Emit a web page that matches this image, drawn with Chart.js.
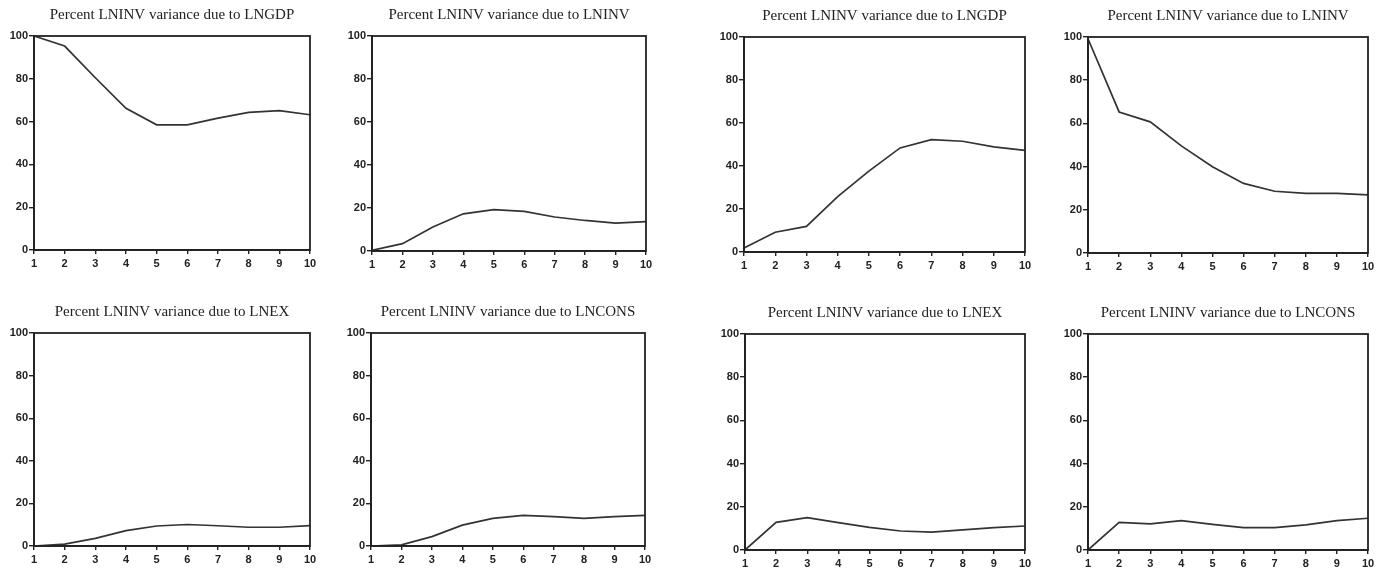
<!DOCTYPE html>
<html>
<head>
<meta charset="utf-8">
<script src="https://cdn.jsdelivr.net/npm/chart.js@4.4.1/dist/chart.umd.min.js"></script>
<style>
  html, body { margin: 0; background: #fff; }
  body { width: 1391px; height: 575px; position: relative; overflow: hidden; }
  canvas { position: absolute; }
</style>
</head>
<body>
<script>
// ── Data ───────────────────────────────────────────────────
const horizons  = ['1','2','3','4','5','6','7','8','9','10'];
const yTicks    = [0, 20, 40, 60, 80, 100];

const leftGdp   = [100, 95.3, 80.5, 66.2, 58.5, 58.5, 61.6, 64.3, 65.1, 63.2];
const leftInv   = [0.3, 3.4, 11.2, 17.3, 19.2, 18.4, 15.8, 14.2, 13.0, 13.7];
const leftEx    = [0.0, 0.9, 3.6, 7.2, 9.4, 10.1, 9.5, 8.8, 8.8, 9.6];
const leftCons  = [0.0, 0.5, 4.4, 9.8, 13.0, 14.4, 13.8, 13.0, 13.8, 14.4];

const rightGdp  = [1.9, 9.2, 11.9, 25.8, 37.6, 48.4, 52.3, 51.5, 48.9, 47.3];
const rightInv  = [99.2, 65.3, 60.7, 49.6, 39.9, 32.2, 28.6, 27.6, 27.6, 26.9];
const rightEx   = [0.0, 12.8, 15.0, 12.7, 10.5, 8.8, 8.3, 9.3, 10.4, 11.1];
const rightCons = [0.0, 12.8, 12.1, 13.6, 11.9, 10.4, 10.4, 11.6, 13.6, 14.7];

const titles = [
  'Percent LNINV variance due to LNGDP', 'Percent LNINV variance due to LNINV',
  'Percent LNINV variance due to LNGDP', 'Percent LNINV variance due to LNINV',
  'Percent LNINV variance due to LNEX',  'Percent LNINV variance due to LNCONS',
  'Percent LNINV variance due to LNEX',  'Percent LNINV variance due to LNCONS'
];
const series = [leftGdp, leftInv, rightGdp, rightInv, leftEx, leftCons, rightEx, rightCons];

// plot-area boxes (left, right, top, bottom) in page pixels
const boxes = [
  [34, 310, 36, 250], [372, 646, 36, 251], [744, 1025, 37, 252], [1088, 1368, 37, 253],
  [34, 310, 333, 546], [371, 645, 333, 546], [745, 1025, 334, 550], [1088, 1368, 334, 550]
];

const Y_AXIS_W = 34, X_AXIS_H = 22, TITLE_H = 30, PAD_R = 10;
const INK = '#222';
const tickFont = { family: '"Liberation Sans", Arial, sans-serif', size: 11, weight: 'bold' };

// ── Frame around plot area ─────────────────────────────────
const framePlugin = {
  id: 'frame',
  afterDatasetsDraw(chart) {
    const { ctx, chartArea: a } = chart;
    ctx.save();
    ctx.strokeStyle = INK;
    ctx.lineWidth = 1.8;
    ctx.strokeRect(a.left, a.top, a.right - a.left, a.bottom - a.top);
    ctx.restore();
  }
};

function makePanel(i) {
  const [l, r, t, b] = boxes[i];
  const cv = document.createElement('canvas');
  const w = Y_AXIS_W + (r - l) + PAD_R;
  const h = TITLE_H + (b - t) + X_AXIS_H;
  cv.width = w; cv.height = h;
  cv.style.left = (l - Y_AXIS_W) + 'px';
  cv.style.top  = (t - TITLE_H) + 'px';
  cv.style.width = w + 'px'; cv.style.height = h + 'px';
  document.body.appendChild(cv);

  new Chart(cv, {
    type: 'line',
    data: {
      labels: horizons,
      datasets: [{ data: series[i], borderColor: '#333', borderWidth: 1.7, pointRadius: 0, tension: 0, fill: false }]
    },
    options: {
      responsive: false,
      animation: false,
      layout: { padding: { left: 0, right: PAD_R, top: 0, bottom: 0 } },
      plugins: {
        legend: { display: false },
        tooltip: { enabled: false },
        title: {
          display: true,
          text: titles[i],
          fullSize: false,
          color: INK,
          font: { family: '"Liberation Serif", "Times New Roman", serif', size: 15, weight: 'normal', lineHeight: '16px' },
          padding: { top: 1, bottom: 13 }
        }
      },
      scales: {
        x: {
          offset: false,
          grid: { display: true, drawOnChartArea: false, drawTicks: true, tickLength: 4, color: INK, lineWidth: 1.4 },
          border: { display: true, color: INK, width: 1.8 },
          ticks: { color: INK, padding: 3, maxRotation: 0, autoSkip: false, font: tickFont },
          afterFit: s => { s.height = X_AXIS_H; }
        },
        y: {
          min: 0, max: 100,
          afterBuildTicks: s => { s.ticks = yTicks.map(v => ({ value: v })); },
          grid: { display: true, drawOnChartArea: false, drawTicks: true, tickLength: 5, color: INK, lineWidth: 1.4 },
          border: { display: true, color: INK, width: 1.8 },
          ticks: { color: INK, padding: 1, font: tickFont },
          afterFit: s => { s.width = Y_AXIS_W; }
        }
      }
    },
    plugins: [framePlugin]
  });
}

titles.forEach((_, i) => makePanel(i));
</script>
</body>
</html>
